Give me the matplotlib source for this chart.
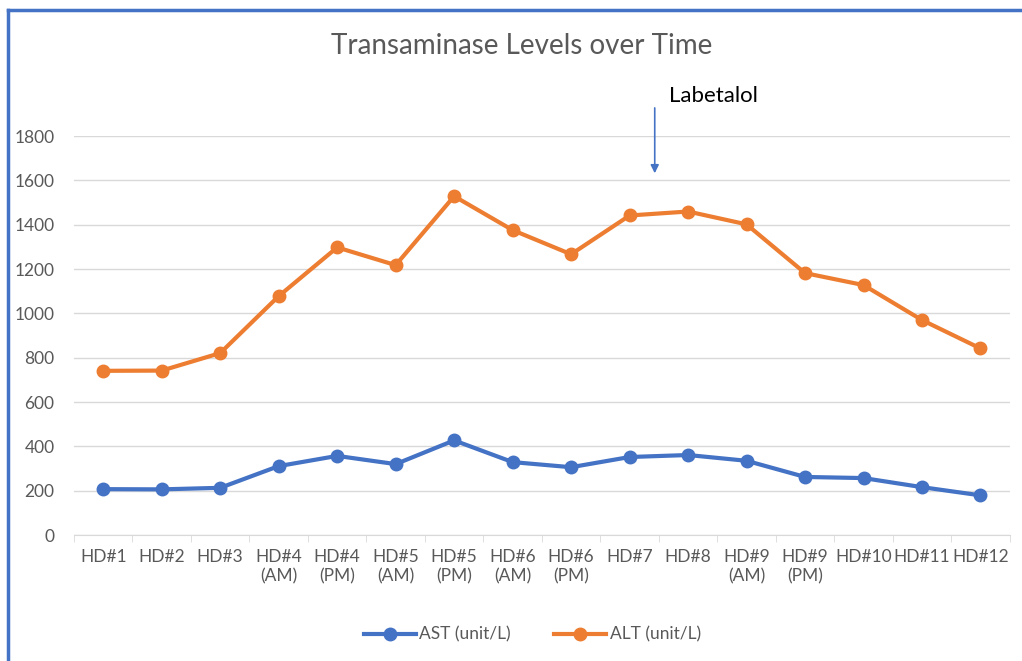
import matplotlib.pyplot as plt
import numpy as np
from matplotlib.lines import Line2D

plt.rcParams['font.family'] = ['Lato', 'DejaVu Sans']

categories = ["HD#1", "HD#2", "HD#3", "HD#4\n(AM)", "HD#4\n(PM)", "HD#5\n(AM)", "HD#5\n(PM)",
              "HD#6\n(AM)", "HD#6\n(PM)", "HD#7", "HD#8", "HD#9\n(AM)", "HD#9\n(PM)",
              "HD#10", "HD#11", "HD#12"]
ast = [207, 206, 213, 311, 357, 320, 427, 329, 306, 352, 361, 335, 262, 257, 216, 179]
alt = [741, 742, 821, 1078, 1298, 1218, 1529, 1376, 1267, 1442, 1460, 1402, 1182, 1128, 970, 842]
yticks = [0, 200, 400, 600, 800, 1000, 1200, 1400, 1600, 1800]

blue = "#4472C4"
orange = "#ED7D31"
grey = "#595959"

fig = plt.figure(figsize=(10.22, 6.61), dpi=100)
ax = fig.add_axes([0.0724, 0.1906, 0.9156, 0.6034])

x = np.arange(len(categories))
ax.plot(x, ast, "-o", color=blue, lw=3, ms=9, label="AST (unit/L)")
ax.plot(x, alt, "-o", color=orange, lw=3, ms=9, label="ALT (unit/L)")

ax.set_xlim(-0.5, len(categories) - 0.5)
ax.set_ylim(0, 1800)
ax.set_yticks(yticks)
ax.set_xticks(x)
ax.set_xticklabels(categories, fontsize=12.5, color=grey, linespacing=1.25)
ax.set_xticks(np.arange(-0.5, len(categories), 1), minor=True)
ax.tick_params(axis="x", which="major", length=0, pad=10)
ax.tick_params(axis="x", which="minor", length=5, color="#D9D9D9")
ax.tick_params(axis="y", length=0, labelsize=12.5, labelcolor=grey, pad=14)
ax.grid(axis="y", color="#D9D9D9", lw=1)
ax.set_axisbelow(True)
for s in ["top", "right", "left"]:
    ax.spines[s].set_visible(False)
ax.spines["bottom"].set_color("#D9D9D9")

fig.text(0.51, 0.93, "Transaminase Levels over Time", ha="center", va="center",
         fontsize=20, color=grey)

ax.annotate("", xy=(9.43, 1620), xytext=(9.43, 1940),
            arrowprops=dict(arrowstyle="-|>", color=blue, lw=1.2, mutation_scale=12),
            annotation_clip=False)
ax.text(9.68, 1980, "Labetalol", fontsize=16, color="black", va="center", ha="left", clip_on=False)

handles = [Line2D([], [], color=blue, lw=3, marker="o", ms=9),
           Line2D([], [], color=orange, lw=3, marker="o", ms=9)]
fig.legend(handles, ["AST (unit/L)", "ALT (unit/L)"], loc="center", bbox_to_anchor=(0.521, 0.04),
           ncol=2, frameon=False, fontsize=12.5, labelcolor=grey, handlelength=3,
           handletextpad=0.2, columnspacing=2.5)

# blue frame on left and top
fig.add_artist(Line2D([0.008, 0.008], [0, 0.985], color=blue, lw=2.5, transform=fig.transFigure))
fig.add_artist(Line2D([0.008, 1.0], [0.985, 0.985], color=blue, lw=2.5, transform=fig.transFigure))

fig.savefig("out.png", dpi=100)
